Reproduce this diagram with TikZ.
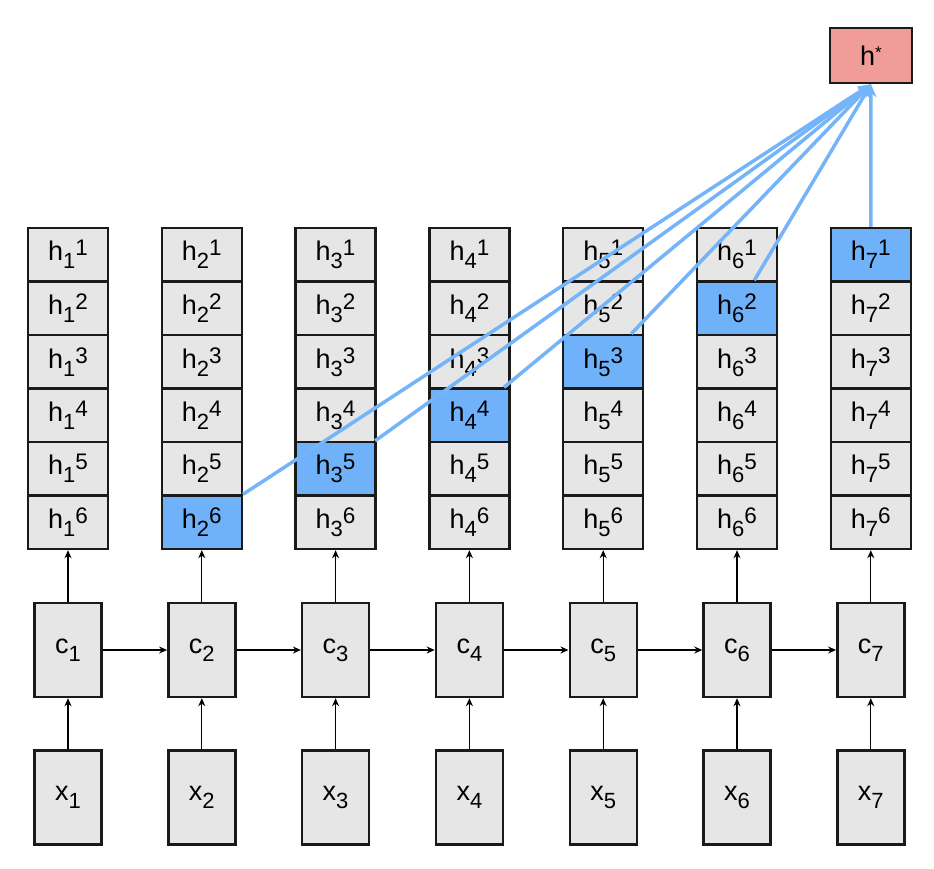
\documentclass[tikz,border=0pt]{standalone}
\usepackage{fontspec}
\setmainfont{Liberation Sans}
\usetikzlibrary{arrows.meta,calc}
\definecolor{cellgray}{HTML}{E6E6E6}
\definecolor{hiblue}{HTML}{70B2FA}
\definecolor{lineblue}{HTML}{74B5F9}
\definecolor{hstarfill}{HTML}{F19C99}
\definecolor{edgecol}{HTML}{1A1A1A}
\newcommand{\mysb}[1]{\lower8pt\hbox{\fontsize{22}{22}\selectfont #1}}
\newcommand{\mysp}[1]{\raise5pt\hbox{\fontsize{22.5}{22}\selectfont #1}}
\begin{document}
\begin{tikzpicture}[x=1pt,y=-1pt,
  font=\fontsize{27}{30}\selectfont,
  cellbox/.style={draw=edgecol, line width=2.4pt, fill=cellgray, minimum width=80pt, minimum height=53.5pt, inner sep=0pt, anchor=center},
  tallbox/.style={draw=edgecol, line width=2.4pt, fill=cellgray, minimum width=67pt, minimum height=94pt, inner sep=0pt, anchor=center},
  blk/.style={line width=1.3pt, -{Stealth[length=8pt,width=7pt]}},
  blueline/.style={draw=lineblue, line width=3.5pt, -{Stealth[length=13pt,width=11pt,inset=4pt]}}
]
\fill[white] (0,0) rectangle (934,868);
\useasboundingbox (0,0) rectangle (934,868);

\node[draw=edgecol, line width=2.4pt, fill=hstarfill, minimum width=82pt, minimum height=55pt, inner sep=0pt] (hs) at (871,55.5) {h\raise7pt\hbox{\fontsize{17}{17}\selectfont *}};

\foreach \i in {1,...,7}{
  \pgfmathsetmacro\cx{68+133.8*(\i-1)}
  \pgfmathtruncatemacro\hj{8-\i}
  \foreach \j in {1,...,6}{
    \ifnum\j=\hj\relax \def\cf{hiblue}\else\def\cf{cellgray}\fi
    \node[cellbox, fill=\cf] (h\i-\j) at (\cx,{228+53.5*(\j-0.5)}) {h\mysb{\i}\mysp{\j}};
  }
  \node[tallbox] (c\i) at (\cx,650) {c\mysb{\i}};
  \node[tallbox] (x\i) at (\cx,797.5) {x\mysb{\i}};
  \draw[blk] (x\i.north) -- (c\i.south);
  \draw[blk] (c\i.north) -- (h\i-6.south);
}
\foreach \i [evaluate=\i as \n using int(\i+1)] in {1,...,6}{
  \draw[blk] (c\i.east) -- (c\n.west);
}

\draw[blueline] ($(h2-6.north west)!1!(h2-6.north east)$) -- (hs.south);
\draw[blueline] ($(h3-5.north west)!0.98!(h3-5.north east)$) -- (hs.south);
\draw[blueline] ($(h4-4.north west)!0.92!(h4-4.north east)$) -- (hs.south);
\draw[blueline] ($(h5-3.north west)!0.84!(h5-3.north east)$) -- (hs.south);
\draw[blueline] ($(h6-2.north west)!0.71!(h6-2.north east)$) -- (hs.south);
\draw[blueline] (h7-1.north) -- (hs.south);
\end{tikzpicture}
\end{document}
